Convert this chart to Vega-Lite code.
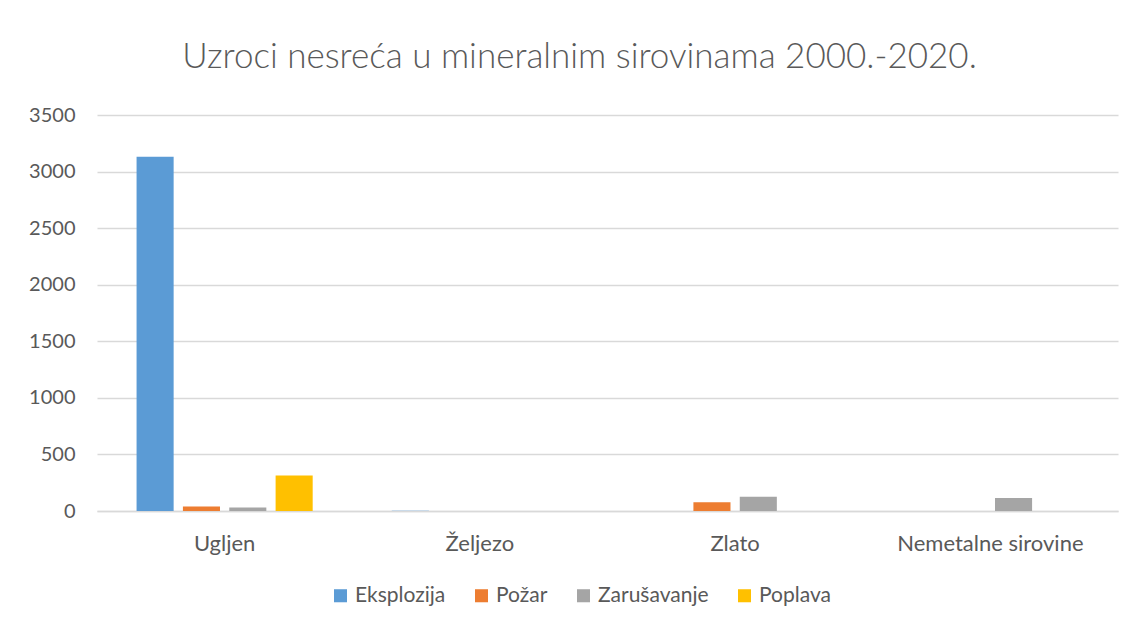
{
  "$schema": "https://vega.github.io/schema/vega-lite/v6.json",
  "width": 1021,
  "height": 396,
  "autosize": {"type": "none"},
  "padding": {"left": 97, "top": 115, "right": 18, "bottom": 117},
  "background": "white",
  "title": {
    "text": "Uzroci nesreća u mineralnim sirovinama 2000.-2020.",
    "font": "Lato",
    "fontSize": 35,
    "fontWeight": 300,
    "color": "#595959",
    "anchor": "middle",
    "dx": -28,
    "offset": 30
  },
  "data": {
    "values": [
      {"kategorija": "Ugljen", "uzrok": "Eksplozija", "broj": 3130},
      {"kategorija": "Ugljen", "uzrok": "Požar", "broj": 40},
      {"kategorija": "Ugljen", "uzrok": "Zarušavanje", "broj": 30},
      {"kategorija": "Ugljen", "uzrok": "Poplava", "broj": 313},
      {"kategorija": "Željezo", "uzrok": "Eksplozija", "broj": 3},
      {"kategorija": "Željezo", "uzrok": "Požar", "broj": 0},
      {"kategorija": "Željezo", "uzrok": "Zarušavanje", "broj": 0},
      {"kategorija": "Željezo", "uzrok": "Poplava", "broj": 0},
      {"kategorija": "Zlato", "uzrok": "Eksplozija", "broj": 0},
      {"kategorija": "Zlato", "uzrok": "Požar", "broj": 78},
      {"kategorija": "Zlato", "uzrok": "Zarušavanje", "broj": 125},
      {"kategorija": "Zlato", "uzrok": "Poplava", "broj": 0},
      {"kategorija": "Nemetalne sirovine", "uzrok": "Eksplozija", "broj": 0},
      {"kategorija": "Nemetalne sirovine", "uzrok": "Požar", "broj": 0},
      {"kategorija": "Nemetalne sirovine", "uzrok": "Zarušavanje", "broj": 115},
      {"kategorija": "Nemetalne sirovine", "uzrok": "Poplava", "broj": 0}
    ]
  },
  "mark": {"type": "bar"},
  "encoding": {
    "x": {
      "field": "kategorija",
      "type": "nominal",
      "sort": ["Ugljen", "Željezo", "Zlato", "Nemetalne sirovine"],
      "scale": {"paddingInner": 0.31, "paddingOuter": 0.155},
      "axis": {
        "title": null,
        "labelAngle": 0,
        "labelFont": "Lato",
        "labelFontSize": 22,
        "labelColor": "#595959",
        "labelPadding": 22,
        "labelLimit": 0,
        "ticks": false,
        "domainColor": "#D9D9D9",
        "domainWidth": 1.5
      }
    },
    "xOffset": {
      "field": "uzrok",
      "type": "nominal",
      "sort": ["Eksplozija", "Požar", "Zarušavanje", "Poplava"],
      "scale": {"paddingInner": 0.2, "paddingOuter": 0}
    },
    "y": {
      "field": "broj",
      "type": "quantitative",
      "scale": {"domain": [0, 3500], "nice": false},
      "axis": {
        "title": null,
        "format": "d",
        "values": [0, 500, 1000, 1500, 2000, 2500, 3000, 3500],
        "domain": false,
        "ticks": false,
        "labelFont": "Lato",
        "labelFontSize": 20,
        "labelColor": "#595959",
        "labelPadding": 22,
        "gridColor": "#D9D9D9",
        "gridWidth": 1.5
      }
    },
    "color": {
      "field": "uzrok",
      "type": "nominal",
      "sort": ["Eksplozija", "Požar", "Zarušavanje", "Poplava"],
      "scale": {
        "domain": ["Eksplozija", "Požar", "Zarušavanje", "Poplava"],
        "range": ["#5B9BD5", "#ED7D31", "#A5A5A5", "#FFC000"]
      },
      "legend": {
        "title": null,
        "orient": "none",
        "legendX": 233,
        "legendY": 470,
        "direction": "horizontal",
        "symbolType": "square",
        "symbolSize": 170,
        "symbolStrokeWidth": 0,
        "labelFont": "Lato",
        "labelFontSize": 21,
        "labelColor": "#595959",
        "columnPadding": 25
      }
    }
  },
  "config": {
    "view": {"stroke": null}
  }
}
